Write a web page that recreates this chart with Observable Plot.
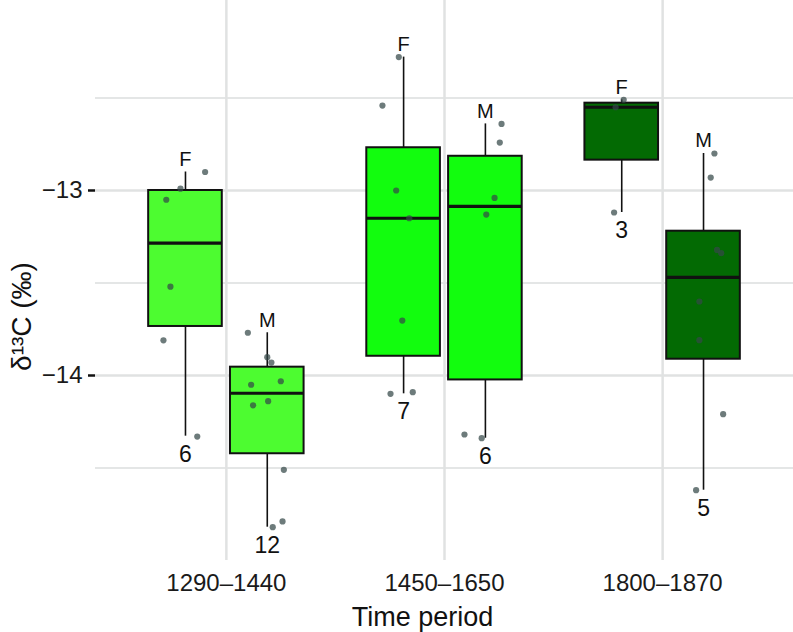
<!DOCTYPE html>
<html><head><meta charset="utf-8">
<script src="https://cdn.jsdelivr.net/npm/d3@7"></script>
<script src="https://cdn.jsdelivr.net/npm/@observablehq/plot@0.6"></script>
<style>body{margin:0;background:#fff}</style>
</head><body><div id="chart"></div>
<script>
// ---- data ----
const periods = ["1290–1440", "1450–1650", "1800–1870"];
const groupPeriod = [1, 1, 2, 2, 3, 3];
const groupSex = ["F", "M", "F", "M", "F", "M"];
const groupCount = [6, 12, 7, 6, 3, 5];
const whiskerLow  = [-14.328, -14.82,  -14.099, -14.339, -13.119, -14.62];
const quartile1   = [-13.735, -14.423, -13.896, -14.024, -12.836, -13.912];
const medians     = [-13.285, -14.096, -13.150, -13.086, -12.550, -13.470];
const quartile3   = [-13.000, -13.955, -12.769, -12.815, -12.528, -13.220];
const whiskerHigh = [-12.900, -13.769, -12.279, -12.640, -12.510, -12.800];
// individual points: group index, value, horizontal jitter (x units)
const pointGroup = [0,0,0,0,0,0, 1,1,1,1,1,1,1,1,1,1, 2,2,2,2,2,2,2, 3,3,3,3,3,3, 4,4,4, 5,5,5,5,5,5,5,5];
const pointValue = [-12.90,-12.99,-13.05,-13.52,-13.81,-14.33,
  -13.769,-13.901,-13.930,-14.050,-14.031,-14.161,-14.139,-14.510,-14.789,-14.820,
  -12.279,-12.541,-13.0,-13.703,-13.15,-14.099,-14.09,
  -12.64,-12.741,-13.04,-13.13,-14.319,-14.339,
  -12.51,-12.55,-13.119,
  -12.80,-12.93,-13.321,-13.339,-13.60,-13.809,-14.209,-14.62];
const pointJitter = [0.090,-0.023,-0.088,-0.069,-0.101,0.054,
  -0.089,0.0,0.019,-0.074,0.062,-0.065,0.004,0.076,0.070,0.025,
  -0.022,-0.097,-0.034,-0.006,0.026,-0.060,0.042,
  0.074,0.066,0.042,0.004,-0.096,-0.017,
  0.009,-0.028,-0.035,
  0.050,0.033,0.062,0.081,-0.019,-0.019,0.090,-0.034];
const yTicks = [-13, -14];
const yMinor = [-12.5, -13.5, -14.5];

// ---- styles / layout ----
const periodFill = ["#4dfc30", "#12fd0e", "#036a03"];
const DODGE = 0.1875, HALF = 0.16875;

const boxes = groupPeriod.map((p, i) => ({
  period: p, sex: groupSex[i], count: groupCount[i],
  x: p + (groupSex[i] === "F" ? -DODGE : DODGE),
  lo: whiskerLow[i], q1: quartile1[i], med: medians[i], q3: quartile3[i], hi: whiskerHigh[i]
}));
const points = pointValue.map((v, i) => ({
  x: boxes[pointGroup[i]].x + pointJitter[i], y: v
}));

const chart = Plot.plot({
  width: 793, height: 632,
  marginTop: 0, marginBottom: 72, marginLeft: 95, marginRight: 0,
  style: {fontFamily: "'Liberation Sans', Arial, sans-serif", color: "#1a1a1a", background: "#fff"},
  x: {domain: [0.4, 3.6]},
  y: {domain: [-15.0, -11.973]},
  marks: [
    Plot.ruleY(yMinor, {stroke: "#e4e6e6", strokeWidth: 2}),
    Plot.ruleY(yTicks, {stroke: "#e0e2e2", strokeWidth: 2.5}),
    Plot.ruleX(groupPeriod.filter((d, i) => i % 2 === 0), {stroke: "#e0e2e2", strokeWidth: 2.5}),
    Plot.ruleX(boxes, {x: "x", y1: "lo", y2: "q1", stroke: "#111", strokeWidth: 1.6}),
    Plot.ruleX(boxes, {x: "x", y1: "q3", y2: "hi", stroke: "#111", strokeWidth: 1.6}),
    Plot.rect(boxes, {x1: d => d.x - HALF, x2: d => d.x + HALF, y1: "q1", y2: "q3",
      fill: d => periodFill[d.period - 1], stroke: "#111", strokeWidth: 2}),
    Plot.ruleY(boxes, {y: "med", x1: d => d.x - HALF, x2: d => d.x + HALF, stroke: "#111", strokeWidth: 3.2}),
    Plot.dot(points, {x: "x", y: "y", r: 3.1, fill: "#344848", fillOpacity: 0.72}),
    Plot.text(boxes, {x: "x", y: "hi", text: "sex", lineAnchor: "bottom", dy: -6, fontSize: 20, fill: "#111"}),
    Plot.text(boxes, {x: "x", y: "lo", text: d => String(d.count), lineAnchor: "top", dy: 9, fontSize: 23, fill: "#111"}),
    Plot.axisY({ticks: yTicks, tickSize: 7, tickPadding: 6, strokeWidth: 2.5, stroke: "#111", fontSize: 24, label: null, tickFormat: d => d3.format("d")(d).replace("-", "−")}),
    Plot.axisX({ticks: [1, 2, 3], tickSize: 0, tickPadding: 13, fontSize: 24, label: null, tickFormat: d => periods[d - 1]}),
    Plot.text(["Time period"], {frameAnchor: "bottom", dx: -22, dy: 57, lineAnchor: "middle", textAnchor: "middle", fontSize: 27, fill: "#111"}),
    Plot.text(["δ¹³C (‰)"], {frameAnchor: "left", dx: -73, dy: 36, rotate: -90, lineAnchor: "middle", textAnchor: "middle", fontSize: 28, fill: "#111"})
  ]
});
document.getElementById("chart").appendChild(chart);
</script>
</body></html>
